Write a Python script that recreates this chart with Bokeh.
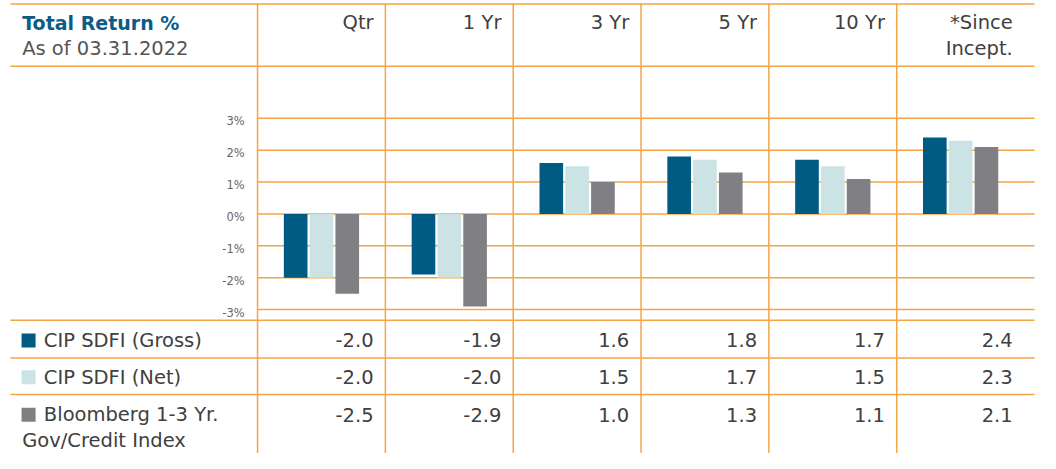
from bokeh.plotting import figure
from bokeh.models import Range1d, ColumnDataSource
from bokeh.transform import dodge
from bokeh.core.properties import value
from bokeh.embed import file_html
from bokeh.resources import INLINE

# ---------------- data ----------------
periods = ["Qtr", "1 Yr", "3 Yr", "5 Yr", "10 Yr", "*Since\nIncept."]
series_names = ["CIP SDFI (Gross)", "CIP SDFI (Net)", "Bloomberg 1-3 Yr.\nGov/Credit Index"]
gross = [-2.0, -1.9, 1.6, 1.8, 1.7, 2.4]
net = [-2.0, -2.0, 1.5, 1.7, 1.5, 2.3]
bloomberg = [-2.5, -2.9, 1.0, 1.3, 1.1, 2.1]
y_ticks = [3, 2, 1, 0, -1, -2, -3]
y_tick_labels = ["3%", "2%", "1%", "0%", "-1%", "-2%", "-3%"]
title = "Total Return %"
subtitle = "As of 03.31.2022"

# ---------------- style / layout ----------------
FONT = "DejaVu Sans"
FS = "19.5px"
ORANGE = "#F5A447"
COLORS = ["#005B82", "#CCE3E6", "#808084"]
TEXT = "#404040"
BLUE_TITLE = "#0B5C86"

W, H = 1040, 453
SX, SY = W / 1056, H / 469          # reference px -> canvas px
COLW = 129.8 * SX                    # width of one period column (canvas px)
X0 = 261 * SX                        # left edge of first period column
PXY = 33.0 * SY                      # canvas px per 1 %
Y0 = 221 * SY                        # canvas px (from top) of 0 %

def ux(rx):  # reference px -> x units
    return (rx * SX - X0) / COLW

def uy(ry):  # reference px from top -> y units (%)
    return (Y0 - ry * SY) / PXY

p = figure(width=W, height=H, output_backend="svg", toolbar_location=None,
           x_range=Range1d(ux(0), ux(1056)), y_range=Range1d(uy(469), uy(0)),
           min_border=0, outline_line_color=None)
p.axis.visible = False
p.grid.visible = False
p.background_fill_color = "white"
p.border_fill_color = "white"

n = len(periods)
x_left_full = ux(10)
x_right = ux(1050)
LW = 1.5

# grid lines in chart area
p.segment(x0=[0] * len(y_ticks), x1=[x_right] * len(y_ticks), y0=y_ticks, y1=y_ticks,
          line_color=ORANGE, line_width=LW)
# table horizontal rules (reference px)
rules = [3.5, 68, 331, 370, 408]
p.segment(x0=[x_left_full] * len(rules), x1=[x_right] * len(rules),
          y0=[uy(v) for v in rules], y1=[uy(v) for v in rules],
          line_color=ORANGE, line_width=LW)
# vertical column rules
p.segment(x0=list(range(n)), x1=list(range(n)), y0=[uy(3)] * n, y1=[uy(480)] * n,
          line_color=ORANGE, line_width=LW)

# bars
src = ColumnDataSource(dict(x=[i + 0.5 for i in range(n)], gross=gross, net=net, bloomberg=bloomberg))
bw = 24 / 129.8
off = 26.2 / 129.8
for key, col, d in [("gross", COLORS[0], -off), ("net", COLORS[1], 0), ("bloomberg", COLORS[2], off)]:
    p.vbar(x=dodge("x", d, range=p.x_range), top=key, bottom=0, width=bw, source=src,
           fill_color=col, line_color=None)

# y tick labels
p.text(x=[ux(248)] * len(y_ticks), y=y_ticks, text=y_tick_labels, text_align="right",
       text_baseline="middle", y_offset=3, text_font=value(FONT), text_font_size="11.5px",
       text_color="#666666")

# header
pad = 12 / 129.8
p.text(x=[ux(22)], y=[uy(23)], text=[title], text_font=value(FONT), text_font_size="19px",
       text_font_style="bold", text_color=BLUE_TITLE, text_baseline="middle")
p.text(x=[ux(22)], y=[uy(50)], text=[subtitle], text_font=value(FONT), text_font_size=FS,
       text_color="#555555", text_baseline="middle")
first = [s.split("\n")[0] for s in periods]
second = [s.split("\n")[1] if "\n" in s else "" for s in periods]
p.text(x=[i + 1 - pad for i in range(n)], y=[uy(23)] * n, text=first,
       text_font=value(FONT), text_font_size=FS, text_color=TEXT, text_align="right",
       text_baseline="middle")
p.text(x=[i + 1 - pad for i in range(n)], y=[uy(50)] * n, text=second,
       text_font=value(FONT), text_font_size=FS, text_color=TEXT, text_align="right",
       text_baseline="middle")

# table rows
row_y = [352, 390, 429]
for vals, r in zip([gross, net, bloomberg], row_y):
    p.text(x=[i + 1 - pad for i in range(n)], y=[uy(r)] * n, text=[f"{v:.1f}" for v in vals],
           text_font=value(FONT), text_font_size=FS, text_color=TEXT, text_align="right",
           text_baseline="middle")

# legend squares + labels
p.scatter(x=[ux(28.5)] * 3, y=[uy(r) for r in row_y], marker="square", size=14,
          fill_color=COLORS, line_color=None)
name_first = [s.split("\n")[0] for s in series_names]
p.text(x=[ux(44)] * 3, y=[uy(r) for r in row_y], text=name_first, text_font=value(FONT),
       text_font_size=FS, text_color=TEXT, text_baseline="middle")
p.text(x=[ux(22)], y=[uy(456)], text=[series_names[2].split("\n")[1]], text_font=value(FONT),
       text_font_size=FS, text_color=TEXT, text_baseline="middle")

open("out.html", "w").write(file_html(p, INLINE))
